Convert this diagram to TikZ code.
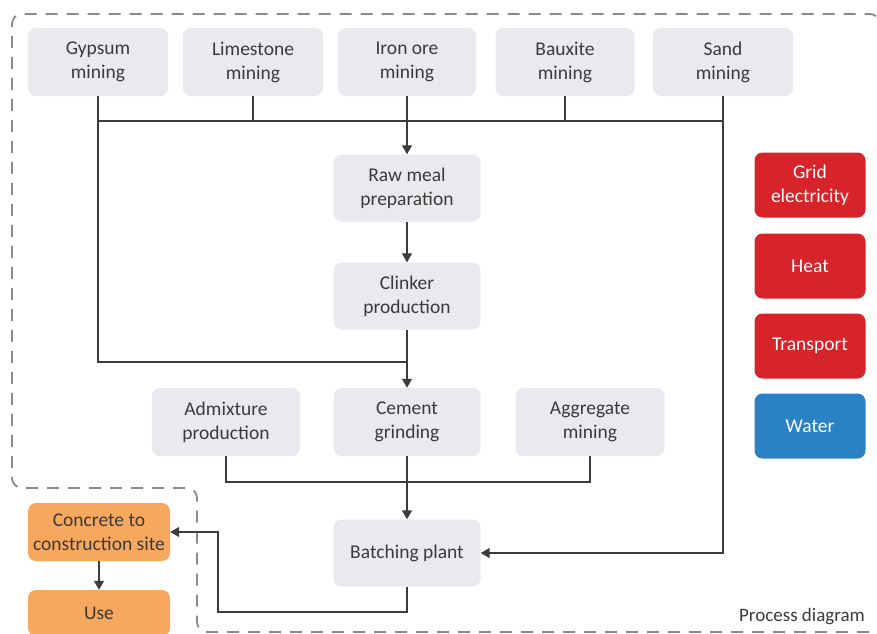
\documentclass[tikz,border=0pt]{standalone}
\usepackage{fontspec}
\setmainfont{Carlito}
\usetikzlibrary{arrows.meta}
\definecolor{boxgrey}{HTML}{E8EAED}
\definecolor{txtgrey}{HTML}{3A3A3A}
\definecolor{linegrey}{HTML}{3C3C3C}
\definecolor{dashgrey}{HTML}{8A8A8A}
\definecolor{redbox}{HTML}{D7242B}
\definecolor{bluebox}{HTML}{2A82C4}
\definecolor{orangebox}{HTML}{F6A85E}
\begin{document}
\begin{tikzpicture}[x=1pt,y=-1pt,
  proc/.style={rounded corners=8pt, fill=boxgrey, text=txtgrey, minimum width=140pt, minimum height=68pt, align=center, inner sep=0pt, font=\fontsize{19.5}{24}\selectfont},
  redb/.style={proc, fill=redbox, text=white, minimum width=111pt, minimum height=65pt},
  blueb/.style={redb, fill=bluebox},
  orangeb/.style={proc, fill=orangebox, text=txtgrey, minimum width=142pt},
  conn/.style={draw=linegrey, line width=1.3pt},
  arr/.style={conn, -{Triangle[width=10pt,length=9pt]}},
  boundary/.style={draw=dashgrey, line width=1.8pt, dash pattern=on 12pt off 9pt, rounded corners=10pt}
]
\useasboundingbox (0,0) rectangle (877,633);
\begin{scope}
\clip (0,0) rectangle (877,633);
\draw[boundary] (890,632) -- (197,632) -- (197,488) -- (12,488) -- (12,14) -- (880,14) -- (880,640);
\end{scope}

% top row
\node[proc] (gyp) at (98,62) {Gypsum\\mining};
\node[proc] (lime) at (253,62) {Limestone\\mining};
\node[proc, minimum width=138pt] (iron) at (407,62) {Iron ore\\mining};
\node[proc, minimum width=139pt] (baux) at (565,62) {Bauxite\\mining};
\node[proc] (sand) at (723,62) {Sand\\mining};

% middle column
\node[proc, minimum width=147pt, minimum height=67pt] (raw) at (407,188) {Raw meal\\preparation};
\node[proc, minimum width=147pt, minimum height=67pt] (clink) at (407,296) {Clinker\\production};
\node[proc, minimum width=148pt] (admix) at (226,422) {Admixture\\production};
\node[proc, minimum width=147pt] (cement) at (407,422) {Cement\\grinding};
\node[proc, minimum width=149pt] (aggr) at (590,422) {Aggregate\\mining};
\node[proc, minimum width=147pt, minimum height=67pt] (batch) at (407,553) {Batching plant};

% orange
\node[orangeb, minimum height=58pt] (conc) at (99,532) {Concrete to\\construction site};
\node[orangeb, minimum height=46pt] (use) at (99,613) {Use};

% right legend
\node[redb] (grid) at (810,185) {Grid\\electricity};
\node[redb] (heat) at (810,266) {Heat};
\node[redb] (trans) at (810,346) {Transport};
\node[blueb] (water) at (810,426) {Water};

\node[text=txtgrey, font=\fontsize{19}{22}\selectfont] (pd) at (802,617) {Process diagram};

% coordinates
\coordinate (busL) at (98,121);
\coordinate (busR) at (723,121);
\coordinate (j1) at (407,362);
\coordinate (j2) at (407,482);
\coordinate (r1) at (218,612);

% connectors
\draw[conn] (gyp.south) |- (j1);
\draw[conn] (busL) -- (busR);
\draw[conn] (lime.south) -- (lime.south |- busL);
\draw[conn] (baux.south) -- (baux.south |- busL);
\draw[arr] (iron.south) -- (raw.north);
\draw[arr] (raw.south) -- (clink.north);
\draw[arr] (clink.south) -- (cement.north);
\draw[arr] (sand.south) |- (batch.east);
\draw[conn] (admix.south) |- (j2);
\draw[conn] (aggr.south) |- (j2);
\draw[arr] (cement.south) -- (batch.north);
\draw[arr] (batch.south) |- (r1) |- (conc.east);
\draw[arr] (conc.south) -- (use.north);
\end{tikzpicture}
\end{document}
